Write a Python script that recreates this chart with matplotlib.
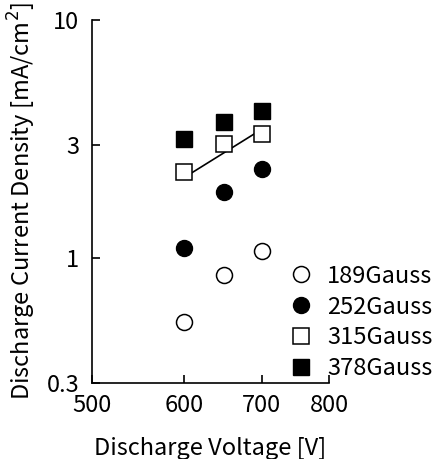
import numpy as np
import matplotlib.pyplot as plt
from matplotlib.ticker import FixedLocator, NullLocator, FixedFormatter

plt.rcParams['font.family'] = ['Noto Sans CJK JP', 'DejaVu Sans']

# Discharge voltage [V]
voltage = [600, 650, 700]

# Discharge current density [mA/cm^2] per magnetic field
j_189 = [0.54, 0.85, 1.07]
j_252 = [1.10, 1.89, 2.36]
j_315 = [2.31, 3.01, 3.32]
j_378 = [3.16, 3.74, 4.17]

# trend line for 315 Gauss
fit_v = [600, 700]
fit_j = [2.18, 3.48]

xticks = [500, 600, 700, 800]
yticks = [0.3, 1, 3, 10]

fig = plt.figure(figsize=(4.37, 4.59), dpi=100)
ax = fig.add_axes([0.2105, 0.1656, 0.5425, 0.7908])

ax.plot(fit_v, fit_j, color='black', lw=1.2, zorder=1)
ms = 11.5
ax.plot(voltage, j_189, 'o', ms=ms, mfc='white', mec='black', mew=1.1, ls='none', label='189Gauss', zorder=2)
ax.plot(voltage, j_252, 'o', ms=ms, mfc='black', mec='black', ls='none', label='252Gauss', zorder=2)
ax.plot(voltage, j_315, 's', ms=ms, mfc='white', mec='black', mew=1.1, ls='none', label='315Gauss', zorder=2)
ax.plot(voltage, j_378, 's', ms=ms, mfc='black', mec='black', ls='none', label='378Gauss', zorder=2)

ax.set_xscale('log')
ax.set_yscale('log')
ax.set_xlim(500, 800)
ax.set_ylim(0.3, 10)
ax.xaxis.set_major_locator(FixedLocator(xticks))
ax.xaxis.set_major_formatter(FixedFormatter([str(t) for t in xticks]))
ax.xaxis.set_minor_locator(NullLocator())
ax.yaxis.set_major_locator(FixedLocator(yticks))
ax.yaxis.set_major_formatter(FixedFormatter(['0.3', '1', '3', '10']))
ax.yaxis.set_minor_locator(NullLocator())

ax.spines['top'].set_visible(False)
ax.spines['right'].set_visible(False)
for s in ['left', 'bottom']:
    ax.spines[s].set_linewidth(1.2)
ax.tick_params(axis='both', direction='in', length=6, width=1.2, labelsize=17)
ax.tick_params(axis='x', pad=8)
ax.tick_params(axis='y', pad=9)

ax.set_xlabel('Discharge Voltage [V]', fontsize=17, labelpad=14)
ax.set_ylabel('Discharge Current Density [mA/cm$^2$]', fontsize=17, labelpad=6)

ax.legend(loc='lower left', bbox_to_anchor=(0.832, 0.008), frameon=False,
          fontsize=17, handletextpad=0.6, labelspacing=0.33, handlelength=1.0,
          borderaxespad=0, borderpad=0)

fig.savefig('out.png', dpi=100)
